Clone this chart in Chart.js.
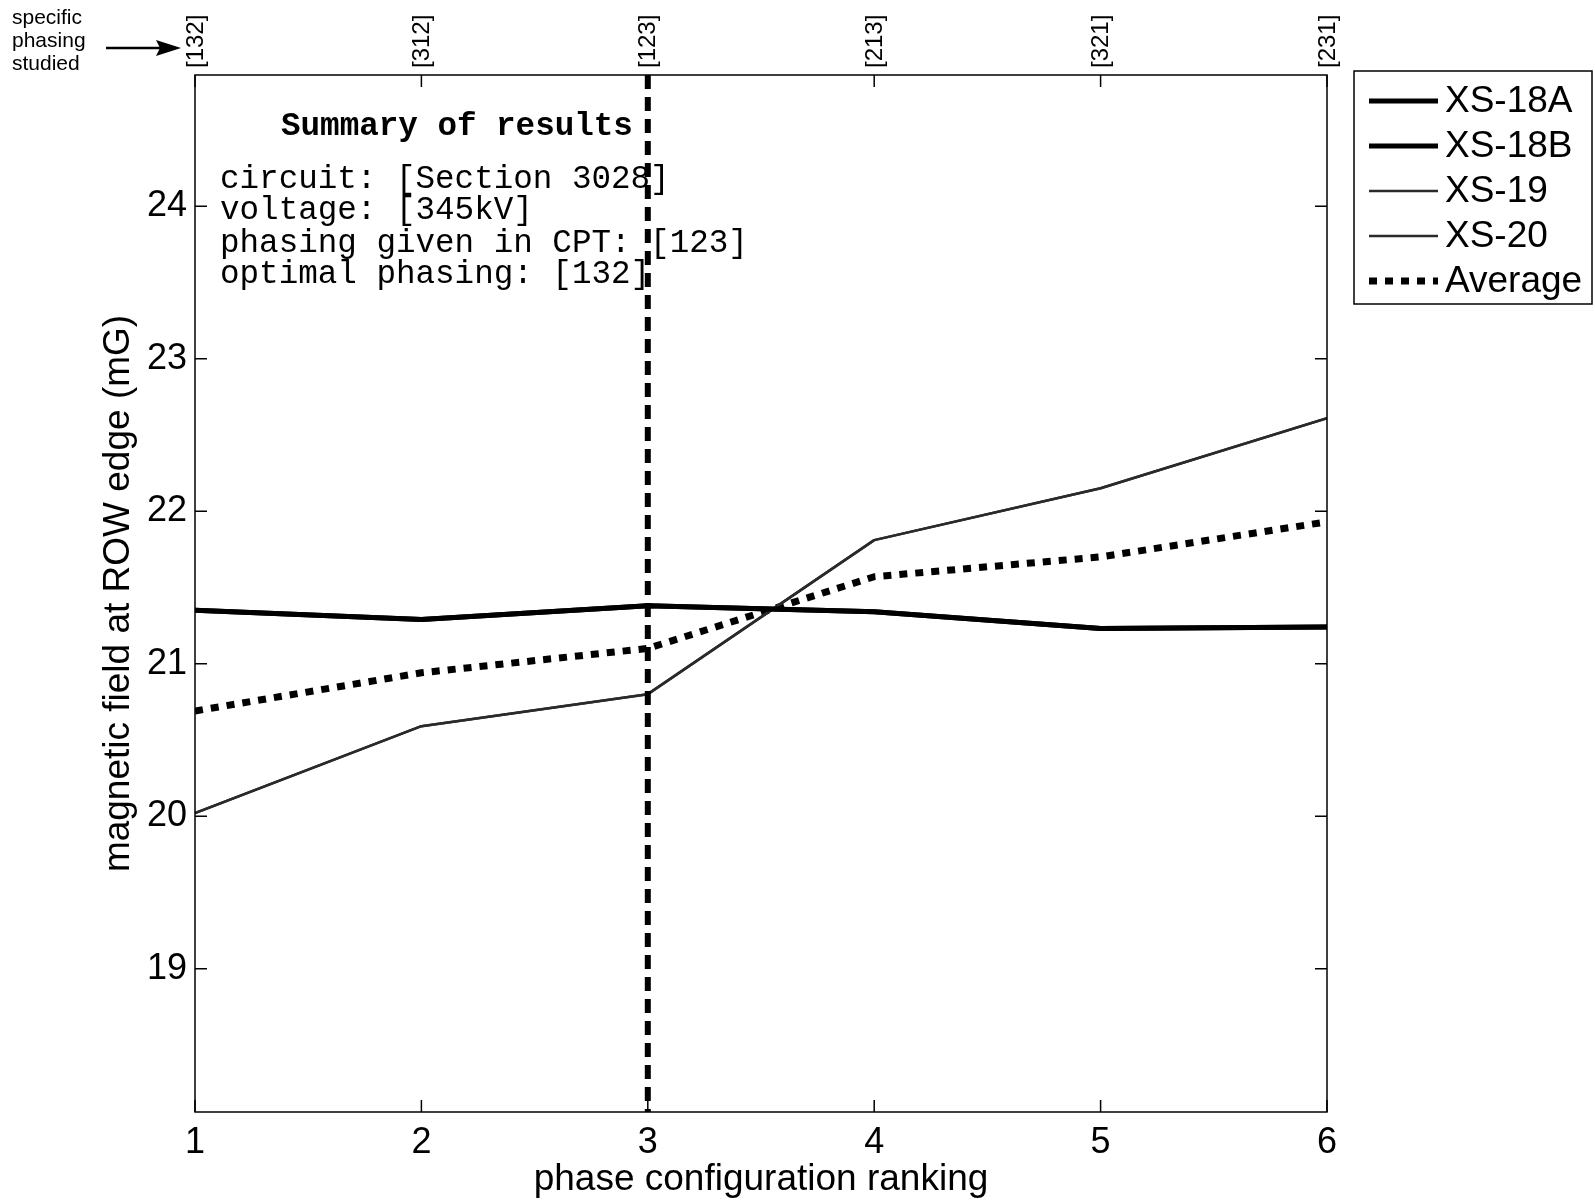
<!DOCTYPE html>
<html>
<head>
<meta charset="utf-8">
<script src="https://cdn.jsdelivr.net/npm/chart.js@4/dist/chart.umd.min.js"></script>
<style>
  html, body { margin: 0; padding: 0; background: #fff; }
  canvas { display: block; }
</style>
</head>
<body>
<canvas id="c" width="1595" height="1202"></canvas>
<script>
// ---- data ----
const ranks = [1, 2, 3, 4, 5, 6];
const phasingLabels = ['[132]', '[312]', '[123]', '[213]', '[321]', '[231]'];
const yTicks = [19, 20, 21, 22, 23, 24];
const yMin = 18.06;
const yMax = 24.86;
const xs18A = [21.35, 21.29, 21.38, 21.34, 21.23, 21.24];
const xs18B = [21.35, 21.29, 21.38, 21.34, 21.23, 21.24];
const xs19 = [20.02, 20.59, 20.80, 21.81, 22.15, 22.61];
const xs20 = [20.02, 20.59, 20.80, 21.81, 22.15, 22.61];
const average = [20.69, 20.94, 21.10, 21.57, 21.70, 21.93];
const seriesNames = ['XS-18A', 'XS-18B', 'XS-19', 'XS-20', 'Average'];
const cptRank = 3;
const summaryTitle = 'Summary of results';
const summaryLines = [
  'circuit: [Section 3028]',
  'voltage: [345kV]',
  'phasing given in CPT: [123]',
  'optimal phasing: [132]'
];
const sideNote = ['specific', 'phasing', 'studied'];
const xTitle = 'phase configuration ranking';
const yTitle = 'magnetic field at ROW edge (mG)';

const toPts = arr => arr.map((v, i) => ({x: ranks[i], y: v}));
const SANS = '"Liberation Sans", Arial, Helvetica, sans-serif';
const MONO = '"Liberation Mono", "Courier New", monospace';

const styles = [
  {borderWidth: 5, borderColor: '#000', borderDash: []},
  {borderWidth: 5, borderColor: '#000', borderDash: []},
  {borderWidth: 2.5, borderColor: '#2a2a2a', borderDash: []},
  {borderWidth: 2.5, borderColor: '#2a2a2a', borderDash: []},
  {borderWidth: 7, borderColor: '#000', borderDash: [8, 8]}
];
const seriesData = [xs18A, xs18B, xs19, xs20, average];

const datasets = seriesData.map((d, i) => Object.assign({
  label: seriesNames[i],
  data: toPts(d),
  pointRadius: 0,
  fill: false,
  tension: 0,
  borderCapStyle: 'butt',
  borderJoinStyle: 'round'
}, styles[i]));

const extras = {
  id: 'extras',
  beforeDraw(chart) {
    const ctx = chart.ctx;
    ctx.save();
    ctx.fillStyle = '#fff';
    ctx.fillRect(0, 0, chart.width, chart.height);
    ctx.restore();
  },
  afterDatasetsDraw(chart) {
    const {ctx, chartArea: a, scales} = chart;
    const x = scales.x, y = scales.y;
    ctx.save();
    // CPT vertical dashed line
    const px = x.getPixelForValue(cptRank);
    ctx.strokeStyle = '#000';
    ctx.lineWidth = 6;
    ctx.setLineDash([14, 8]);
    ctx.beginPath();
    ctx.moveTo(px, a.top);
    ctx.lineTo(px, a.bottom);
    ctx.stroke();
    ctx.setLineDash([]);
    // inner tick marks
    ctx.lineWidth = 1.5;
    const tl = 12;
    ranks.forEach(v => {
      const p = x.getPixelForValue(v);
      ctx.beginPath();
      ctx.moveTo(p, a.bottom); ctx.lineTo(p, a.bottom - tl);
      ctx.moveTo(p, a.top); ctx.lineTo(p, a.top + tl);
      ctx.stroke();
    });
    yTicks.forEach(v => {
      const p = y.getPixelForValue(v);
      ctx.beginPath();
      ctx.moveTo(a.left, p); ctx.lineTo(a.left + tl, p);
      ctx.moveTo(a.right, p); ctx.lineTo(a.right - tl, p);
      ctx.stroke();
    });
    // frame
    ctx.lineWidth = 1.5;
    ctx.strokeRect(a.left, a.top, a.right - a.left, a.bottom - a.top);

    // top phasing labels (rotated)
    ctx.fillStyle = '#000';
    ctx.font = '24px ' + SANS;
    ctx.textAlign = 'left';
    ctx.textBaseline = 'middle';
    ranks.forEach((v, i) => {
      const p = x.getPixelForValue(v);
      ctx.save();
      ctx.translate(p + 1, a.top - 7);
      ctx.rotate(-Math.PI / 2);
      ctx.fillText(phasingLabels[i], 0, 0);
      ctx.restore();
    });

    // summary text
    ctx.fillStyle = '#000';
    ctx.textBaseline = 'middle';
    ctx.textAlign = 'left';
    ctx.font = 'bold 32.6px ' + MONO;
    ctx.fillText(summaryTitle, 281, 127);
    ctx.font = '32.6px ' + MONO;
    const ys = [179, 210.5, 243, 274.5];
    summaryLines.forEach((t, i) => ctx.fillText(t, 220, ys[i]));

    // legend
    const lx = 1354, ly = 71, lw = 238, lh = 233;
    ctx.fillStyle = '#fff';
    ctx.fillRect(lx, ly, lw, lh);
    ctx.strokeStyle = '#000';
    ctx.lineWidth = 1.5;
    ctx.strokeRect(lx, ly, lw, lh);
    ctx.font = '37px ' + SANS;
    chart.data.datasets.forEach((ds, i) => {
      const ry = 101 + i * 45;
      ctx.save();
      ctx.strokeStyle = ds.borderColor;
      ctx.lineWidth = ds.borderWidth;
      ctx.setLineDash(ds.borderDash || []);
      ctx.beginPath();
      ctx.moveTo(1369, ry);
      ctx.lineTo(1438, ry);
      ctx.stroke();
      ctx.restore();
      ctx.fillStyle = '#000';
      ctx.textBaseline = 'middle';
      ctx.fillText(ds.label, 1445, ry + 1);
    });

    // side note + arrow
    ctx.font = '21px ' + SANS;
    ctx.fillStyle = '#000';
    ctx.textBaseline = 'middle';
    sideNote.forEach((t, i) => ctx.fillText(t, 12, 18 + i * 23));
    ctx.lineWidth = 2.5;
    ctx.beginPath();
    ctx.moveTo(106, 48);
    ctx.lineTo(165, 48);
    ctx.stroke();
    ctx.beginPath();
    ctx.moveTo(181, 48);
    ctx.lineTo(156, 40);
    ctx.lineTo(160, 48);
    ctx.lineTo(156, 56);
    ctx.closePath();
    ctx.fill();
    ctx.restore();
  }
};

new Chart(document.getElementById('c'), {
  type: 'line',
  data: { datasets },
  options: {
    responsive: false,
    animation: false,
    devicePixelRatio: 1,
    layout: { padding: 0 },
    plugins: { legend: { display: false }, tooltip: { enabled: false } },
    scales: {
      x: {
        type: 'linear', position: 'bottom', min: 1, max: 6,
        afterBuildTicks: s => { s.ticks = ranks.map(v => ({value: v})); },
        afterFit: s => { s.height = 90; },
        grid: { display: false, drawTicks: false },
        border: { display: false },
        ticks: { color: '#000', font: { family: SANS, size: 36 }, padding: 9, maxRotation: 0, autoSkip: false },
        title: { display: true, text: xTitle, color: '#000', font: { family: SANS, size: 37 }, padding: { top: 0, bottom: 0 } }
      },
      xTop: {
        type: 'linear', position: 'top', min: 1, max: 6,
        afterBuildTicks: s => { s.ticks = ranks.map(v => ({value: v})); },
        afterFit: s => { s.height = 75; },
        grid: { display: false, drawTicks: false },
        border: { display: false },
        ticks: { display: false }
      },
      y: {
        type: 'linear', position: 'left', min: yMin, max: yMax,
        afterBuildTicks: s => { s.ticks = yTicks.map(v => ({value: v})); },
        afterFit: s => { s.width = 195; },
        grid: { display: false, drawTicks: false },
        border: { display: false },
        ticks: { color: '#000', font: { family: SANS, size: 36 }, padding: 8 },
        title: { display: true, text: yTitle, color: '#000', font: { family: SANS, size: 37 }, padding: { top: 97, bottom: 0 } }
      },
      yRight: {
        type: 'linear', position: 'right', min: yMin, max: yMax,
        afterFit: s => { s.width = 268; },
        grid: { display: false, drawTicks: false },
        border: { display: false },
        ticks: { display: false }
      }
    }
  },
  plugins: [extras]
});
</script>
</body>
</html>
